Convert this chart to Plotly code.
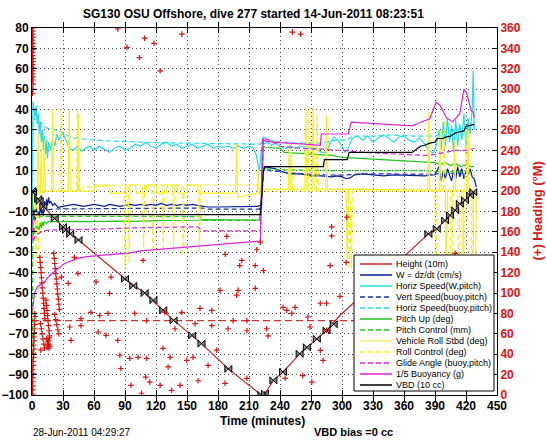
import plotly.graph_objects as go

TITLE = "SG130 OSU Offshore, dive 277 started 14-Jun-2011 08:23:51"
FOOT_LEFT = "28-Jun-2011 04:29:27"
FOOT_RIGHT = "VBD bias =0 cc"
X_TITLE = "Time (minutes)"
Y2_TITLE = "(+) Heading (\u00b0M)"

# ---- data: (time in minutes, value) ----
HEIGHT = [(0,0),(1,-0.5),(7,-4.6),(11,-7.5),(22,-13.5),(30,-17.6),(45,-24),(90,-43),(109,-50),(137,-63.4),
          (164,-74.8),(190,-87.2),(222,-100),(225.5,-99.3),(233.6,-92.8),(243,-88.7),(259,-79.8),(266,-76.6),
          (275.6,-72.5),(285,-68.4),(298,-61),(383.6,-21),(391.7,-18.5),(399.8,-14.4),(404.6,-11.9),
          (409.5,-9.4),(414,-6.2),(419,-4.5),(424,-2.1),(427,-0.5),(428,0)]
HEIGHT_MARKS = [(0,0),(1,-0.5),(6,-3.9),(7.4,-4.8),(11,-7.5),(22,-13.5),(30,-17.6),(33,-19),(37,-21),(45,-24),
                (90,-43),(98,-46.5),(109,-50),(117.5,-53.5),(127,-58.4),(137,-63.4),(155,-70.8),(164,-74.8),
                (190,-87.2),(222,-100),(225.5,-99.3),(233.6,-92.8),(243,-88.7),(259,-79.8),(266,-76.6),
                (275.6,-72.5),(285,-68.4),(292,-65.3),(383.6,-21),(391.7,-18.5),(399.8,-14.4),(404.6,-11.9),
                (409.5,-9.4),(414,-6.2),(419,-4.5),(424,-2.1),(427,-0.5)]
TARGET_DEPTH = [(0,-63.5),(428,-63.5)]

W = [(0,0),(1,-14),(2,-9),(3,-15),(4,-8),(5,-12),(6,-10),(7,-13),(8,-6),(9,-11),(10,-9),(11,-12),(12,-5),(13,-8),
     (14,-4),(15,-7),(16,-3),(17,-6),(18,-5),(20,-7),(22,-6),(25,-8),(30,-7.5),(35,-7),(40,-6.5),(45,-7),(50,-7.5),
     (55,-7),(60,-6.5),(65,-7),(70,-7.5),(75,-6.5),(80,-7),(85,-7.5),(90,-7),(95,-6.5),(100,-7),(105,-6.5),(110,-7),
     (115,-6.5),(120,-7),(125,-6),(130,-7),(135,-6.5),(140,-7),(145,-6.5),(150,-7),(155,-6.5),(160,-7),(165,-7.5),
     (170,-7.8),(180,-7.8),(190,-7.8),(200,-7.8),(210,-7.8),(218,-7.5),(221,-7),(222,-5),(223,10),(225,12),(230,11.5),
     (235,11),(240,10),(245,9),(250,8.5),(260,8.5),(265,8),(270,7.5),(280,7.5),(290,7),(295,7.5),(300,7),(304,6.2),
     (308,6.5),(312,8),(320,8.5),(330,8),(340,7.5),(350,8),(360,7.8),(370,7.5),(380,7.5),(390,8),(394,12),(396,5),
     (398,10),(400,6),(402,11),(404,8),(406,5),(408,10),(410,6),(412,12),(414,7),(416,11),(418,6),(420,10),(422,8),
     (424,11),(426,7),(428,6),(430,2)]
HSPEED_W = [(0,0),(1,44),(2,40),(3,36),(4,42),(5,33),(6,38),(7,28),(8,34),(9,24),(10,30),(11,20),(12,27),(13,18),
            (14,25),(15,16),(16,24),(18,20),(20,26),(22,22),(24,28),(26,25),(28,27),(30,28),(33,25),(36,21),(40,20),
            (44,22),(48,19.5),(52,21),(56,22),(60,20),(65,22),(70,20.5),(75,19),(80,21),(85,22),(90,20),(95,21),
            (100,23),(105,22),(110,24),(115,22),(120,21),(125,23),(130,24),(135,22),(140,23),(145,21),(150,22),
            (155,23),(160,21),(165,22),(170,23),(175,21),(180,22),(185,21.5),(190,22),(195,21),(200,22),(205,21),
            (210,22),(214,21),(217,18),(219,12),(220,10),(221,15),(222,20),(224,23),(228,24),(232,22.5),(236,24),
            (240,22),(245,21),(250,22),(255,21),(260,22),(265,21.5),(270,21),(275,21),(280,19),(284,19),(288,23),
            (292,26.5),(296,25),(300,22),(303,19),(306,21),(310,26),(315,27),(320,25),(325,27),(330,24),(335,26),
            (340,27.5),(345,26),(350,24),(355,26.5),(360,27),(365,25),(370,24),(375,26),(380,23),(384,20),(388,18.5),
            (391,22),(394,30),(396,20),(398,34),(400,22),(402,36),(404,24),(406,32),(408,19),(410,35),(412,22),
            (414,33),(416,25),(418,38),(420,21),(422,36),(424,28),(426,40),(427,59),(428,30)]
VSPEED_B = [(0,0),(1,-14),(3,-12),(6,-10),(10,-9.5),(15,-9),(20,-8.8),(40,-8.7),(60,-8.6),(100,-8.5),(140,-8.4),
            (165,-8.3),(170,-8.8),(220,-8.8),(222,-5),(224,11),(230,10),(240,9.5),(260,8.5),(280,8),(300,7.8),
            (320,8.5),(360,8.2),(390,8.3),(400,9),(410,8.5),(420,9),(428,9)]
HSPEED_B = [(0,0),(1,36),(3,35),(6,34),(10,33),(14,31),(18,30.5),(22,30),(26,29.5),(30,28.5),(35,27),(40,26),
            (50,25.5),(60,25),(70,24.7),(80,24.5),(90,24.3),(100,24),(120,23.8),(140,23.6),(160,23.5),(180,23.3),
            (200,23),(215,23),(221,23),(222,24),(224,26.5),(230,25),(240,24),(260,23.5),(280,23.5),(295,25),
            (305,25),(310,27),(330,27),(350,27.5),(370,27),(390,27),(400,29),(410,30),(420,31),(428,32)]
PITCH = [(0,0),(1,-22),(2,-18),(3,-21),(4,-17),(5,-20),(6,-16),(7,-19),(8,-15.5),(9,-18),(10,-15),(11,-17),
         (12,-15),(14,-16),(16,-14.8),(20,-15),(40,-14.8),(60,-15),(80,-14.7),(100,-14.8),(120,-14.5),(140,-14.5),
         (160,-14.3),(165,-14),(180,-14),(200,-14.1),(220,-14.2),(222,-5),(224,22),(226,21.5),(240,21),(244,19),
         (260,18.5),(280,18),(290,17.5),(300,16.5),(320,16),(340,15.5),(360,15),(380,14.5),(390,14),(395,13),
         (400,14),(405,12.5),(410,13.5),(415,12),(420,13),(425,12),(428,12)]
PITCH_CTL = [(0,-100),(1,-12),(5,-12.4),(60,-12.4),(120,-12.5),(163,-12.5),(165,-14.4),(221,-14.4),(222,-10),
             (224,11),(240,10.5),(280,10),(300,10),(340,10),(380,10),(395,9.5),(400,9),(410,10),(420,9),(428,9)]
ROLL = [(0,0),(2,-1),(5,-1),(6,28),(7,-1),(8,-1),(9,20),(10,-1),(11,-1),(12,25),(13,0),(19,0),(20,40),(21,0),
        (35,0),(36,40),(37,0),(44,0),(45,38),(46,0),(60,0),(61,3),(75,3),(76,-1),(90,-1),(91,3),(100,3),(101,-1),
        (110,-1),(111,3),(120,3),(121,-1),(130,-1),(131,3),(140,3),(141,-1),(150,-1),(151,3),(160,3),(161,-1),
        (197,-1),(198,23),(199,-3),(218,-1),(219,10),(220,-2),(222,1),(248,1),(249,23),(250,1),(264,1),(265,41),
        (266,1),(271,1),(272,41),(273,1),(284,1),(285,37),(286,1),(304,1),(305,-35),(306,1),(383,0.5),(384,39),
        (385,0.5),(394,0.5),(395,30),(396,0.5),(400,0.5),(401,-60),(402,0.5),(408,0.5),(409,25),(410,0.5),
        (416,0.5),(417,-90),(418,0.5),(421,0.5),(422,30),(423,0.5),(427,0.5),(428,-95),(430,0)]
ROLL_CTL = [(0,0),(3,0),(4,-35),(5,0),(6,-30),(7,0),(19,0),(20,40),(21,0),(27,0),(28,40),(29,0),(43,0),(44,40),
            (45,0),(50,2),(89,3),(90,-38),(91,3),(93,3),(94,-35),(95,3),(107,3),(108,-28),(109,3),(116,3),(117,-30),
            (118,3),(126,3),(127,-28),(128,3),(136,3),(137,-30),(138,3),(145,3),(146,-32),(147,3),(161,3),(162,-30),
            (163,3),(220,3),(222,0),(250,0),(251,25),(252,0),(266,0),(267,40),(268,0),(275,0),(276,38),(277,0),
            (306,0),(307,-38),(308,-5),(309,-38),(310,0),(390,0),(391,-97),(392,0),(398,0),(399,35),(400,0),
            (405,0),(406,-95),(407,0),(412,0),(413,-95),(414,0),(419,0),(420,30),(421,0),(425,0),(426,-97),
            (427,0),(430,0)]
GLIDE = [(0,-10),(1,-25),(3,-22),(6,-21),(10,-19.5),(20,-19),(60,-18.7),(100,-18),(160,-17.5),(165,-19.5),
         (221,-19.5),(222,-10),(224,26),(230,25),(240,22),(260,21),(280,20.5),(300,20),(320,19),(340,18.5),
         (360,18),(380,17.5),(390,18),(400,19),(410,20),(420,20),(428,21)]
BUOY = [(0.5,-58.5),(1.5,-52),(2.5,-50),(5,-47),(8,-46),(12,-44.6),(16,-42),(20,-40),(25,-38),(31,-35.6),
        (38,-34),(44,-33),(55,-32),(67,-31.5),(80,-30.8),(93,-30.4),(105,-29.3),(130,-28.2),(160,-27),
        (190,-25.8),(215,-24.8),(221,-24.5),(222,0),(223,25.7),(226,24.5),(240,23.8),(260,23.2),(279,22.5),
        (280,28),(300,27.8),(306,28),(309,33.8),(330,33.2),(350,32.6),(368,32),(375,33.5),(385,35.5),(391,43.6),
        (395,42),(401,36),(407,34),(414,38),(418,50),(421,47.6),(425,39.5),(427,38.7),(428,36)]
VBD = [(0,-11.5),(221,-11.5),(222,-5),(224,10),(226,12),(282,12),(283,15.4),(305,15.4),(307,19),(368,19),
       (372,20.5),(376,22),(380,22.5),(385,23.5),(390,24),(392,25.8),(398,25.8),(400,26.5),(405,27),(410,28.6),
       (413,29),(418,29.5),(420,31.8),(425,32.5),(428,32.7)]

HEADING = [
    # turn at start of dive
    (0.5,360),(0.8,357),(0.5,354),(1.0,351),(0.6,348),(0.9,345),(0.5,342),(1.0,339),(0.7,336),(0.5,333),
    (1.0,330),(0.8,327),(0.6,324),(1.1,321),(0.7,318),(0.5,315),(0.9,312),(0.6,309),(1.0,305),(0.8,300),(0.6,296),
    (0.4,1),(0.6,5),(0.8,9),(0.5,13),(0.9,17),(1.1,21),(0.7,25),(1.3,29),(1.0,33),(1.5,37),(1.2,41),(1.8,45),
    (1.4,49),(2.0,53),(1.7,57),(2.3,61),(2.0,65),(2.6,69),(2.2,73),(2.9,77),(2.5,80),
    (7.6,135),(8.0,130),(8.4,125),(8.8,120),(9.2,115),(9.6,110),(10.0,105),(10.4,100),(10.8,95),(11.2,90),
    (11.6,85),(12.0,80),(12.4,75),(8.2,70),(9.0,65),(9.8,60),(10.6,55),(11.4,50),(12.2,46),(8.6,44),
    (13.5,93),(14.0,88),(14.5,83),(15.0,78),(15.5,73),(16.0,68),(16.5,63),(17.0,58),(14.2,55),(15.2,52),
    (16.2,50),(17.2,48),(14.8,47),(15.8,53),(16.8,56),(15.4,49),(16.4,46),
    (21,139),(21.5,134),(22,129),(22.5,124),(23,119),(23.5,114),(24,109),(24.5,104),(25,99),(25.5,94),
    (26,89),(26.5,84),(22,79),(23,74),(24,69),(25,64),(26,60),
    # scattered
    (83,359),(145,354),(92,341),(109,350),(118,345),(104,331),(252,356),(260,354),(124,318),
    (188.5,155.6),(290,165),(290,156),(187,138),(217.5,142.5),(221,150),(304.6,174.5),(409.5,139),
    (203,132),(201,127),(216,127),(224,122),(288.5,127),(107.5,132),(182,102.6),(199.4,102.6),(198,98),
    (216,104.6),(162.6,85),(174,83),(128.7,81),(145,81),(111,73),(194.6,73),(208,73),(157.8,70),(174,68),
    (138.4,65),(189.7,65),(208,63),(227,65),(228.5,58),(246.6,83),(251.4,80),(254.6,86),(243,86),(279,90),
    (285,90),(267,76.5),(269,66.7),(285,63.4),(126.8,45.8),(111,36),(133.6,37),(149.8,34),(178.8,44),
    (155.9,37),(170.4,29),(131.7,27.5),(160.7,14),(143.3,9.5),(124,9.5),(114,12.7),(135,4.6),(186.8,11.5),
    (208,16.4),(262,19),(270.8,12.7),(245,16.4),(279,43.8),(281.7,34),(106,1.7),
    (41,135),(44.5,119),(35,109.5),(62,111),(75,99.7),(76.5,115.7),(57,81),(65.5,78),(47.4,75),(73.6,80),
    (36.5,66.7),(47.4,68),(64,61.8),(71.6,58.5),(37.8,53.6),(83,53.6),(85,39),(94.6,36),(102.6,37),(86,26),
    (95.8,9.5),(110,17.6),(99.4,80),(28.4,115.7),(298,96.8),(304,130),(401.7,11.5),
]

X_RANGE = [0, 450]
Y_RANGE = [-100, 80]
Y2_RANGE = [0, 360]

# ---- styles ----
FONT = "Liberation Sans, Arial, Helvetica, sans-serif"
DASH = "5px,3px"
SERIES = [
    ("Height (10m)", HEIGHT, "#cc2222", "solid", 1.2),
    ("W = dz/dt (cm/s)", W, "#0a1e9c", "solid", 1.2),
    ("Horiz Speed(W,pitch)", HSPEED_W, "#22dde6", "solid", 1.2),
    ("Vert Speed(buoy,pitch)", VSPEED_B, "#2030a8", DASH, 1.2),
    ("Horiz Speed(buoy,pitch)", HSPEED_B, "#22dde6", DASH, 1.2),
    ("Pitch Up (deg)", PITCH, "#22c522", "solid", 1.2),
    ("Pitch Control (mm)", PITCH_CTL, "#22c522", DASH, 1.2),
    ("Vehicle Roll Stbd (deg)", ROLL, "#f6f020", "solid", 1.2),
    ("Roll Control (deg)", ROLL_CTL, "#f6f020", DASH, 1.2),
    ("Glide Angle (buoy,pitch)", GLIDE, "#e020e0", DASH, 1.2),
    ("1/5 Buoyancy (g)", BUOY, "#e020e0", "solid", 1.2),
    ("VBD (10 cc)", VBD, "#000000", "solid", 1.2),
]


def unzip(pairs):
    return [p[0] for p in pairs], [p[1] for p in pairs]


fig = go.Figure()
tt, vv = unzip(TARGET_DEPTH)
fig.add_trace(go.Scatter(x=tt, y=vv, mode="lines", line=dict(color="#cc3333", width=1.2, dash="7px,4px"),
                         showlegend=False, hoverinfo="skip"))
for name, data, color, dash, width in SERIES:
    t, v = unzip(data)
    fig.add_trace(go.Scatter(x=t, y=v, mode="lines", name=name,
                             line=dict(color=color, width=width, dash=dash),
                             showlegend=False, hoverinfo="skip"))
mt, mv = unzip(HEIGHT_MARKS)
fig.add_trace(go.Scatter(x=mt, y=mv, mode="markers",
                         marker=dict(symbol="bowtie", size=7, color="#8a8a8a",
                                     line=dict(color="#000000", width=1)),
                         showlegend=False, hoverinfo="skip"))
ht, hv = unzip(HEADING)
fig.add_trace(go.Scatter(x=ht, y=hv, mode="markers", yaxis="y2",
                         marker=dict(symbol="cross-thin-open", size=4, color="#e01010",
                                     line=dict(color="#e01010", width=1.2)),
                         showlegend=False, hoverinfo="skip"))

# plot area in pixels
W_PX, H_PX = 546, 442
L, R, T, B = 32, 49, 28, 47
PW, PH = W_PX - L - R, H_PX - T - B


def xp(px):
    return (px - L) / PW


def yp(py):
    return (H_PX - B - py) / PH


shapes = [dict(type="rect", xref="paper", yref="paper", x0=xp(354), x1=xp(494), y0=yp(391), y1=yp(255),
               fillcolor="white", line=dict(color="black", width=1), layer="above")]
annotations = []
for i, (name, data, color, dash, width) in enumerate(SERIES):
    py = 264 + i * 11.0
    lw = 2.2 if name.startswith("Vehicle") else 1.5
    lc = "#f7f29a" if name.startswith("Vehicle") else color
    shapes.append(dict(type="line", xref="paper", yref="paper", x0=xp(360), x1=xp(392), y0=yp(py), y1=yp(py),
                       line=dict(color=lc, width=lw, dash=dash), layer="above"))
    annotations.append(dict(text=name, xref="paper", yref="paper", x=xp(394), y=yp(py), xanchor="left",
                            yanchor="middle", showarrow=False, font=dict(family=FONT, size=9, color="black")))

annotations += [
    dict(text=TITLE, xref="paper", yref="paper", x=xp(253.5), y=yp(14), xanchor="center", yanchor="middle",
         showarrow=False, font=dict(family=FONT, size=12, color="black", weight="bold")),
    dict(text=FOOT_LEFT, xref="paper", yref="paper", x=xp(31), y=yp(432.5), xanchor="left", yanchor="middle",
         showarrow=False, font=dict(family=FONT, size=10, color="black")),
    dict(text=FOOT_RIGHT, xref="paper", yref="paper", x=xp(312), y=yp(432), xanchor="left", yanchor="middle",
         showarrow=False, font=dict(family=FONT, size=11, color="black", weight="bold")),
    dict(text=Y2_TITLE, xref="paper", yref="paper", x=xp(537), y=0.5, xanchor="center", yanchor="middle",
         textangle=-90, showarrow=False, font=dict(family=FONT, size=13, color="#e01010", weight="bold")),
    dict(text=X_TITLE, xref="paper", yref="paper", x=xp(262.5), y=yp(420.5), xanchor="center", yanchor="middle",
         showarrow=False, font=dict(family=FONT, size=12, color="black", weight="bold")),
]

tickfont = dict(family=FONT, size=12, color="black", weight="bold")
fig.update_layout(
    width=W_PX, height=H_PX, margin=dict(l=L, r=R, t=T, b=B, pad=0, autoexpand=False),
    paper_bgcolor="white", plot_bgcolor="white", showlegend=False,
    xaxis=dict(range=X_RANGE, tickmode="linear", tick0=0, dtick=30, ticks="inside", ticklen=5,
               tickcolor="black", showline=True, linecolor="black", linewidth=1, mirror="allticks",
               showgrid=True, gridcolor="#444444", gridwidth=1, griddash="1px,3px", zeroline=False,
               tickfont=tickfont, automargin=False),
    yaxis=dict(range=Y_RANGE, tickmode="linear", tick0=-100, dtick=10, ticks="inside", ticklen=5,
               tickcolor="black", showline=True, linecolor="black", linewidth=1, mirror=False,
               showgrid=True, gridcolor="#444444", gridwidth=1, griddash="1px,3px", zeroline=False,
               tickfont=tickfont, automargin=False),
    yaxis2=dict(range=Y2_RANGE, overlaying="y", side="right", anchor="x", tickmode="linear", tick0=0, dtick=20,
                ticks="inside", ticklen=5, tickcolor="black", showline=True, linecolor="black", linewidth=1,
                showgrid=False, zeroline=False, automargin=False,
                tickfont=dict(family=FONT, size=12, color="#e01010", weight="bold")),
    shapes=shapes, annotations=annotations,
)

fig.write_html("out.html", config={"displayModeBar": False},
               post_script="document.body.style.margin='0';document.body.style.overflow='hidden';")
